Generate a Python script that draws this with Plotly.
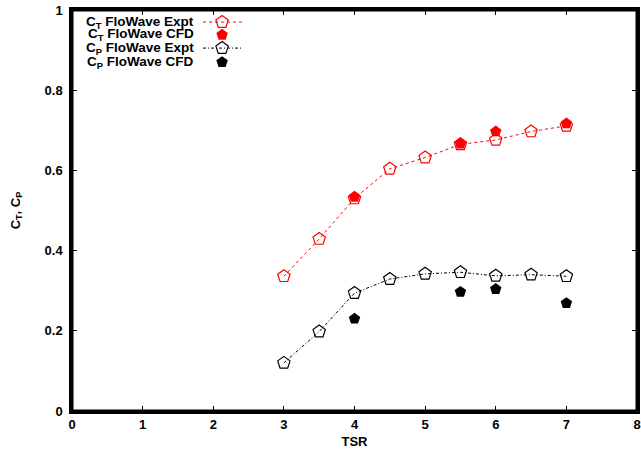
import plotly.graph_objects as go

# Data
tsr_expt = [3, 3.5, 4, 4.5, 5, 5.5, 6, 6.5, 7]
ct_expt = [0.336, 0.429, 0.530, 0.604, 0.632, 0.665, 0.676, 0.697, 0.711]
cp_expt = [0.120, 0.198, 0.294, 0.329, 0.342, 0.346, 0.337, 0.340, 0.336]

tsr_cfd = [4, 5.5, 6, 7]
ct_cfd = [0.534, 0.667, 0.697, 0.717]
cp_cfd = [0.230, 0.297, 0.304, 0.269]

x_ticks = [0, 1, 2, 3, 4, 5, 6, 7, 8]
y_ticks = [0, 0.2, 0.4, 0.6, 0.8, 1]
y_tick_labels = ["0", "0.2", "0.4", "0.6", "0.8", "1"]

legend_labels = ["C<sub>T</sub> FloWave Expt", "C<sub>T</sub> FloWave CFD",
                 "C<sub>P</sub> FloWave Expt", "C<sub>P</sub> FloWave CFD"]

FONT = "Liberation Sans, Arial, Helvetica, sans-serif"
RED = "#ff0000"
BLACK = "#000000"
BLACK_DASH = "3px,2px,1px,2px"

fig = go.Figure()

fig.add_trace(go.Scatter(x=tsr_expt, y=ct_expt, mode="lines+markers",
                         line=dict(color=RED, width=1, dash="dot"),
                         marker=dict(symbol="pentagon-open", size=13, color=RED, line=dict(width=1.2, color=RED)),
                         showlegend=False))
fig.add_trace(go.Scatter(x=tsr_expt, y=cp_expt, mode="lines+markers",
                         line=dict(color=BLACK, width=1, dash=BLACK_DASH),
                         marker=dict(symbol="pentagon-open", size=13, color=BLACK, line=dict(width=1.2, color=BLACK)),
                         showlegend=False))
fig.add_trace(go.Scatter(x=tsr_cfd, y=ct_cfd, mode="markers",
                         marker=dict(symbol="pentagon", size=12, color=RED),
                         showlegend=False))
fig.add_trace(go.Scatter(x=tsr_cfd, y=cp_cfd, mode="markers",
                         marker=dict(symbol="pentagon", size=12, color=BLACK),
                         showlegend=False))

# Custom legend (gnuplot style: text right-aligned, key sample to the right)
key_rows = [0.970, 0.938, 0.905, 0.870]
key_x = 2.125
key_line = [1.855, 2.41]
key_text_x = 1.755
key_styles = [
    dict(mode="lines+markers", line=dict(color=RED, width=1, dash="dot"),
         marker=dict(symbol="pentagon-open", size=13, color=RED, line=dict(width=1.2, color=RED))),
    dict(mode="markers", marker=dict(symbol="pentagon", size=12, color=RED)),
    dict(mode="lines+markers", line=dict(color=BLACK, width=1, dash=BLACK_DASH),
         marker=dict(symbol="pentagon-open", size=13, color=BLACK, line=dict(width=1.2, color=BLACK))),
    dict(mode="markers", marker=dict(symbol="pentagon", size=12, color=BLACK)),
]
for row, style, label in zip(key_rows, key_styles, legend_labels):
    if style["mode"] == "lines+markers":
        fig.add_trace(go.Scatter(x=key_line, y=[row, row], mode="lines", line=style["line"],
                                 showlegend=False, hoverinfo="skip"))
    fig.add_trace(go.Scatter(x=[key_x], y=[row], mode="markers", marker=style["marker"],
                             showlegend=False, hoverinfo="skip"))
    fig.add_annotation(x=key_text_x, y=row, xref="x", yref="y", text="<b>" + label + "</b>",
                       showarrow=False, xanchor="right", yanchor="middle",
                       font=dict(family=FONT, size=13.5, color="black"))

axis_common = dict(showline=True, linewidth=2.5, linecolor="black",
                   ticks="inside", ticklen=5, tickwidth=1, tickcolor="black",
                   showgrid=False, zeroline=False, ticklabeloverflow="allow",
                   tickfont=dict(family=FONT, size=13, color="black"))

fig.update_layout(
    width=641, height=457,
    margin=dict(l=72, r=4, t=10, b=46),
    paper_bgcolor="white", plot_bgcolor="white",
    font=dict(family=FONT, size=13, color="black"),
    xaxis=dict(range=[0, 8], tickvals=x_ticks, ticktext=["<b>%d</b>" % v for v in x_ticks],
               mirror="allticks",
               title=dict(text="<b>TSR</b>", standoff=6, font=dict(family=FONT, size=13)),
               automargin=False, **axis_common),
    yaxis=dict(range=[0, 1], tickvals=y_ticks,
               ticktext=["<b>%s</b>" % t for t in y_tick_labels],
               mirror="allticks", ticklabelstandoff=4,
               title=dict(text="<b>C<sub>T</sub>, C<sub>P</sub></b>", standoff=22, font=dict(family=FONT, size=13)),
               automargin=False, **axis_common),
)

# Full frame around the plot area (gnuplot border)
fig.add_shape(type="rect", xref="x domain", yref="y domain", x0=0, x1=1, y0=0, y1=1,
              fillcolor="rgba(0,0,0,0)", line=dict(color="black", width=3), layer="above")

fig.write_html("out.html", config={"displayModeBar": False},
               post_script="document.body.style.margin='0';document.body.style.overflow='hidden';")
